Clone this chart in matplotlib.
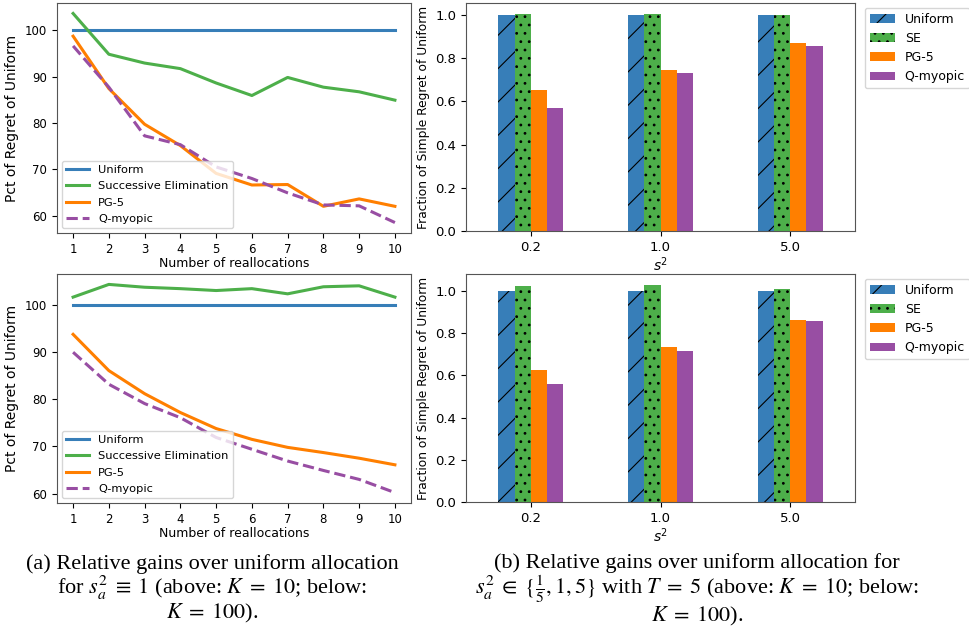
import numpy as np
import matplotlib
matplotlib.use("Agg")
import matplotlib.pyplot as plt

# ---- data ----
realloc = [1, 2, 3, 4, 5, 6, 7, 8, 9, 10]
uniform_k10 = [100] * 10
se_k10 = [103.6, 94.8, 92.9, 91.7, 88.6, 85.9, 89.8, 87.7, 86.7, 84.9]
pg5_k10 = [98.7, 87.4, 79.7, 75.1, 69.1, 66.6, 66.7, 62.0, 63.6, 62.0]
qmy_k10 = [96.6, 87.7, 77.2, 75.3, 70.5, 68.0, 64.9, 62.3, 62.1, 58.5]

uniform_k100 = [100] * 10
se_k100 = [101.7, 104.4, 103.8, 103.5, 103.1, 103.5, 102.4, 103.9, 104.1, 101.7]
pg5_k100 = [93.8, 86.1, 81.2, 77.2, 73.8, 71.5, 69.8, 68.7, 67.5, 66.1]
qmy_k100 = [90.0, 83.2, 79.1, 76.1, 71.9, 69.4, 66.9, 64.9, 63.0, 60.2]

s2_labels = ["0.2", "1.0", "5.0"]
bar_uniform_k10 = [1.0, 1.0, 1.0]
bar_se_k10 = [1.005, 1.005, 1.0]
bar_pg5_k10 = [0.652, 0.745, 0.868]
bar_qmy_k10 = [0.567, 0.729, 0.856]

bar_uniform_k100 = [1.0, 1.0, 1.0]
bar_se_k100 = [1.024, 1.028, 1.008]
bar_pg5_k100 = [0.627, 0.735, 0.861]
bar_qmy_k100 = [0.561, 0.716, 0.859]

BLUE, GREEN, ORANGE, PURPLE = "#377eb8", "#4daf4a", "#ff7f00", "#984ea3"

plt.rcParams["mathtext.fontset"] = "stix"
plt.rcParams["hatch.linewidth"] = 0.8

fig = plt.figure(figsize=(9.69, 6.31), dpi=100)
W, H = 969, 631


def px_axes(x0, y0, x1, y1):
    return fig.add_axes([x0 / W, 1 - y1 / H, (x1 - x0) / W, (y1 - y0) / H])


def line_panel(ax, uni, se, pg, qm):
    ax.plot(realloc, uni, color=BLUE, lw=2.2, label="Uniform")
    ax.plot(realloc, se, color=GREEN, lw=2.2, label="Successive Elimination")
    ax.plot(realloc, pg, color=ORANGE, lw=2.2, label="PG-5")
    ax.plot(realloc, qm, color=PURPLE, lw=2.2, ls="--", label="Q-myopic")
    ax.set_xticks(realloc)
    ax.set_yticks([60, 70, 80, 90, 100])
    ax.tick_params(labelsize=8.5)
    ax.set_xlabel("Number of reallocations", fontsize=9, labelpad=1)
    ax.set_ylabel("Pct of Regret of Uniform", fontsize=10)
    ax.legend(loc="lower left", fontsize=8.2, borderaxespad=0.4, labelspacing=0.55)
    for s in ax.spines.values():
        s.set_color("#555555")


def bar_panel(ax, uni, se, pg, qm):
    x = np.arange(len(s2_labels))
    w = 0.125
    ax.bar(x - 1.5 * w, uni, w, color=BLUE, hatch="/", edgecolor="black", lw=0, label="Uniform")
    ax.bar(x - 0.5 * w, se, w, color=GREEN, hatch="..", edgecolor="black", lw=0, label="SE")
    ax.bar(x + 0.5 * w, pg, w, color=ORANGE, lw=0, label="PG-5")
    ax.bar(x + 1.5 * w, qm, w, color=PURPLE, lw=0, label="Q-myopic")
    ax.set_xlim(-0.5, 2.5)
    ax.set_xticks(x, s2_labels)
    ax.set_yticks([0.0, 0.2, 0.4, 0.6, 0.8, 1.0])
    ax.tick_params(labelsize=9.5)
    ax.set_xlabel("$s^2$", fontsize=10, labelpad=1, math_fontfamily="dejavusans")
    ax.set_ylabel("Fraction of Simple Regret of Uniform", fontsize=8.8)
    ax.legend(loc="upper left", bbox_to_anchor=(1.025, 0.98), fontsize=9, borderaxespad=0)
    for s in ax.spines.values():
        s.set_color("#555555")


line_panel(px_axes(57, 3, 411, 233), uniform_k10, se_k10, pg5_k10, qmy_k10)
line_panel(px_axes(57, 274, 411, 503), uniform_k100, se_k100, pg5_k100, qmy_k100)
bar_panel(px_axes(466, 3, 855, 231), bar_uniform_k10, bar_se_k10, bar_pg5_k10, bar_qmy_k10)
bar_panel(px_axes(466, 274, 855, 502), bar_uniform_k100, bar_se_k100, bar_pg5_k100, bar_qmy_k100)

# captions, one multi-line text each
cap = dict(ha="center", va="top", multialignment="center", fontsize=16,
           family="Liberation Serif", linespacing=1.0)
fig.text(212 / W, 1 - 554 / H,
         "(a) Relative gains over uniform allocation\n"
         r"for $s_a^2\;\equiv\;1$ (above: $K\;=\;10$; below:" "\n"
         r"$K\;=\;100$).", **cap)
fig.text(697 / W, 1 - 553 / H,
         "(b) Relative gains over uniform allocation for\n"
         r"$s_a^2\;\in\;\{\frac{1}{5}, 1, 5\}$ with $T\;=\;5$ (above: $K\;=\;10$; below:" "\n"
         r"$K\;=\;100$).", **cap)

fig.savefig("out.png", dpi=100)
